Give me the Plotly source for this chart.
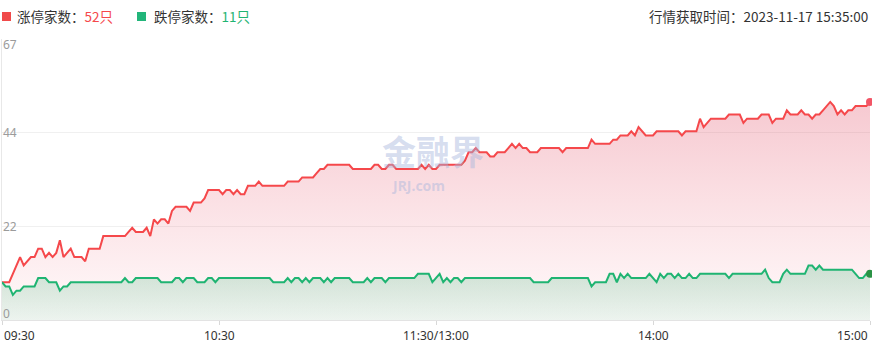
import plotly.graph_objects as go

# ---- data -----------------------------------------------------------
times = ([f"{9 + (30 + i) // 60:02d}:{(30 + i) % 60:02d}" for i in range(121)] +
         [f"{13 + (i + 1) // 60:02d}:{(i + 1) % 60:02d}" for i in range(120)])

limit_up = [
    9, 9, 9, 11, 13, 15, 13, 14, 15, 15,
    17, 17, 15, 16, 15, 16, 19, 15, 16, 17,
    15, 15, 15, 14, 17, 17, 17, 17, 20, 20,
    20, 20, 20, 20, 20, 21, 22, 21, 21, 21,
    22, 20, 24, 23, 24, 24, 23, 26, 27, 27,
    27, 27, 26, 28, 28, 28, 29, 31, 31, 31,
    31, 30, 31, 31, 30, 31, 30, 30, 32, 32,
    32, 33, 32, 32, 32, 32, 32, 32, 32, 33,
    33, 33, 33, 34, 34, 34, 34, 35, 36, 36,
    37, 37, 37, 37, 37, 37, 37, 36, 36, 36,
    36, 36, 36, 37, 37, 36, 36, 37, 37, 36,
    36, 36, 36, 36, 36, 36, 37, 36, 37, 36,
    36, 37, 37, 37, 37, 37, 37, 37, 38, 40,
    40, 41, 40, 40, 40, 39, 39, 40, 40, 40,
    41, 42, 41, 42, 41, 41, 40, 40, 40, 41,
    41, 41, 41, 41, 41, 40, 41, 41, 41, 41,
    41, 41, 41, 43, 42, 42, 42, 42, 42, 43,
    43, 44, 44, 44, 45, 44, 46, 45, 44, 44,
    44, 45, 45, 45, 45, 45, 45, 45, 44, 45,
    45, 45, 45, 48, 46, 47, 48, 48, 48, 48,
    48, 49, 49, 49, 49, 47, 48, 48, 48, 48,
    49, 49, 49, 47, 48, 48, 48, 50, 49, 49,
    49, 50, 49, 49, 48, 49, 49, 50, 51, 52,
    51, 49, 50, 49, 50, 50, 51, 51, 51, 51,
    52,
]

limit_down = [
    9, 8, 8, 6, 7, 7, 8, 8, 8, 8,
    10, 10, 10, 9, 9, 9, 7, 8, 8, 9,
    9, 9, 9, 9, 9, 9, 9, 9, 9, 9,
    9, 9, 9, 9, 10, 9, 9, 10, 10, 10,
    10, 10, 10, 10, 9, 9, 9, 9, 10, 10,
    9, 10, 10, 10, 9, 9, 9, 10, 10, 9,
    10, 10, 10, 10, 10, 10, 10, 10, 10, 10,
    10, 10, 10, 10, 10, 9, 9, 9, 9, 10,
    9, 10, 10, 9, 10, 9, 10, 10, 10, 9,
    10, 9, 10, 10, 10, 10, 10, 9, 9, 9,
    9, 10, 9, 10, 10, 10, 9, 10, 10, 10,
    10, 10, 10, 10, 10, 11, 11, 11, 11, 9,
    10, 11, 9, 10, 9, 10, 10, 9, 10, 10,
    10, 10, 10, 10, 10, 10, 10, 10, 10, 10,
    10, 10, 10, 10, 10, 10, 10, 9, 9, 9,
    9, 9, 10, 10, 10, 10, 10, 10, 10, 10,
    10, 10, 10, 8, 9, 9, 9, 9, 11, 11,
    9, 11, 10, 11, 10, 10, 10, 10, 10, 11,
    10, 9, 11, 10, 11, 11, 10, 11, 10, 10,
    11, 10, 10, 11, 11, 11, 11, 11, 11, 11,
    11, 10, 11, 11, 11, 11, 11, 11, 11, 11,
    11, 12, 10, 9, 9, 9, 11, 12, 11, 11,
    11, 11, 11, 13, 13, 12, 13, 12, 12, 12,
    12, 12, 12, 12, 12, 12, 11, 10, 10, 11,
    11,
]

y_tick_vals = [0, 67 / 3, 134 / 3, 67]
y_tick_text = ["0", "22", "44", "67"]
x_tick_labels = ["09:30", "10:30", "11:30/13:00", "14:00", "15:00"]
x_tick_times = ["09:30", "10:30", "11:30", "14:00", "15:00"]

up_label, up_count = "涨停家数：", "52只"
down_label, down_count = "跌停家数：", "11只"
stamp = "行情获取时间：2023-11-17 15:35:00"

# ---- figure ---------------------------------------------------------
RED = "#f5484b"
GREEN = "#1fb472"
W, H = 872, 359
ML, MR, MT, MB = 2, 2, 39, 39
PW, PH = W - ML - MR, H - MT - MB
FONT = "Noto Sans, Noto Sans CJK SC, sans-serif"
HFONT = "Noto Sans CJK SC, Noto Sans, sans-serif"

def px(xp):
    return (xp - ML) / PW

def py(yp):
    return (H - MB - yp) / PH

idx = list(range(len(times)))
xpos = [times.index(t) for t in x_tick_times]

fig = go.Figure()
fig.add_trace(go.Scatter(
    x=idx, y=limit_up, mode="lines", text=times,
    line=dict(color=RED, width=2),
    fill="tozeroy",
    fillgradient=dict(type="vertical",
                      colorscale=[[0, "rgba(240,90,110,0.03)"],
                                  [1, "rgba(225,75,100,0.30)"]]),
    hoverinfo="skip",
))
fig.add_trace(go.Scatter(
    x=idx, y=limit_down, mode="lines", text=times,
    line=dict(color=GREEN, width=2),
    fill="tozeroy",
    fillgradient=dict(type="vertical",
                      colorscale=[[0, "rgba(30,170,100,0.08)"],
                                  [1, "rgba(30,170,100,0.22)"]]),
    hoverinfo="skip",
))
fig.add_trace(go.Scatter(
    x=[idx[-1]], y=[limit_up[-1]], mode="markers",
    marker=dict(color="#f25566", size=8), cliponaxis=False, hoverinfo="skip"))
fig.add_trace(go.Scatter(
    x=[idx[-1]], y=[limit_down[-1]], mode="markers",
    marker=dict(color="#2a9245", size=8), cliponaxis=False, hoverinfo="skip"))

fig.update_layout(
    width=W, height=H,
    margin=dict(l=ML, r=MR, t=MT, b=MB),
    plot_bgcolor="white", paper_bgcolor="white",
    showlegend=False,
    font=dict(family=FONT, color="#333"),
)
fig.update_xaxes(
    range=[0, len(times) - 1], showgrid=False, zeroline=False,
    showline=True, linecolor="#e3e3e3", linewidth=1,
    ticks="outside", ticklen=4, tickcolor="#d8d8d8",
    tickvals=xpos, showticklabels=False,
)
fig.update_yaxes(
    range=[0, 67], tickvals=y_tick_vals, showticklabels=False,
    showgrid=True, gridcolor="#f0f0f0", gridwidth=1,
    showline=True, linecolor="#e8e8e8", zeroline=False, ticks="",
)

annos = []
# y tick labels (first/last nudged inside like the reference)
yshifts = [7, 0, 0, -5]
for yv, lab, sh in zip(y_tick_vals, y_tick_text, yshifts):
    annos.append(dict(x=0, y=yv, xref="paper", yref="y", text=lab,
                      showarrow=False, xanchor="left", yanchor="middle",
                      yshift=sh, xshift=-1,
                      font=dict(size=12, color="#9b9b9b", family="Noto Sans, sans-serif")))
# x tick labels
anchors = ["left", "center", "center", "center", "right"]
for xv, lab, anc in zip(xpos, x_tick_labels, anchors):
    annos.append(dict(x=xv, y=0, xref="x", yref="paper", text=lab,
                      showarrow=False, xanchor=anc, yanchor="top", yshift=-5,
                      font=dict(size=12, color="#333", family="Noto Sans, sans-serif")))

annos.append(dict(x=px(15), y=1, xref="paper", yref="paper", yshift=23,
                  xanchor="left", yanchor="middle", showarrow=False,
                  text=f"{up_label}<span style='color:{RED}'>{up_count}</span>",
                  font=dict(size=13.5, color="#333", family=HFONT)))
annos.append(dict(x=px(152), y=1, xref="paper", yref="paper", yshift=23,
                  xanchor="left", yanchor="middle", showarrow=False,
                  text=f"{down_label}<span style='color:{GREEN}'>{down_count}</span>",
                  font=dict(size=13.5, color="#333", family=HFONT)))
annos.append(dict(x=1, y=1, xref="paper", yref="paper", yshift=23,
                  xanchor="right", yanchor="middle", showarrow=False,
                  text=stamp, font=dict(size=13.5, color="#333", family=HFONT)))
# watermark
annos.append(dict(x=px(433), y=py(150), xref="paper", yref="paper",
                  text="<b>金融界</b>", showarrow=False,
                  font=dict(size=34, color="rgba(165,180,220,0.45)",
                            family="Noto Sans CJK SC, sans-serif")))
annos.append(dict(x=px(418), y=py(185), xref="paper", yref="paper",
                  text="<b>JRJ.com</b>", showarrow=False,
                  font=dict(size=14, color="rgba(165,180,220,0.45)",
                            family="Noto Sans, sans-serif")))
fig.update_layout(annotations=annos)

fig.add_shape(type="rect", xref="paper", yref="paper",
              x0=px(2), x1=px(11), y0=py(21), y1=py(12),
              fillcolor="#f04a4a", line=dict(width=0))
fig.add_shape(type="rect", xref="paper", yref="paper",
              x0=px(137), x1=px(146), y0=py(21), y1=py(12),
              fillcolor="#22b57a", line=dict(width=0))

fig.write_html("out.html", config={"displayModeBar": False},
               post_script="document.body.style.margin='0';document.body.style.overflow='hidden';")
